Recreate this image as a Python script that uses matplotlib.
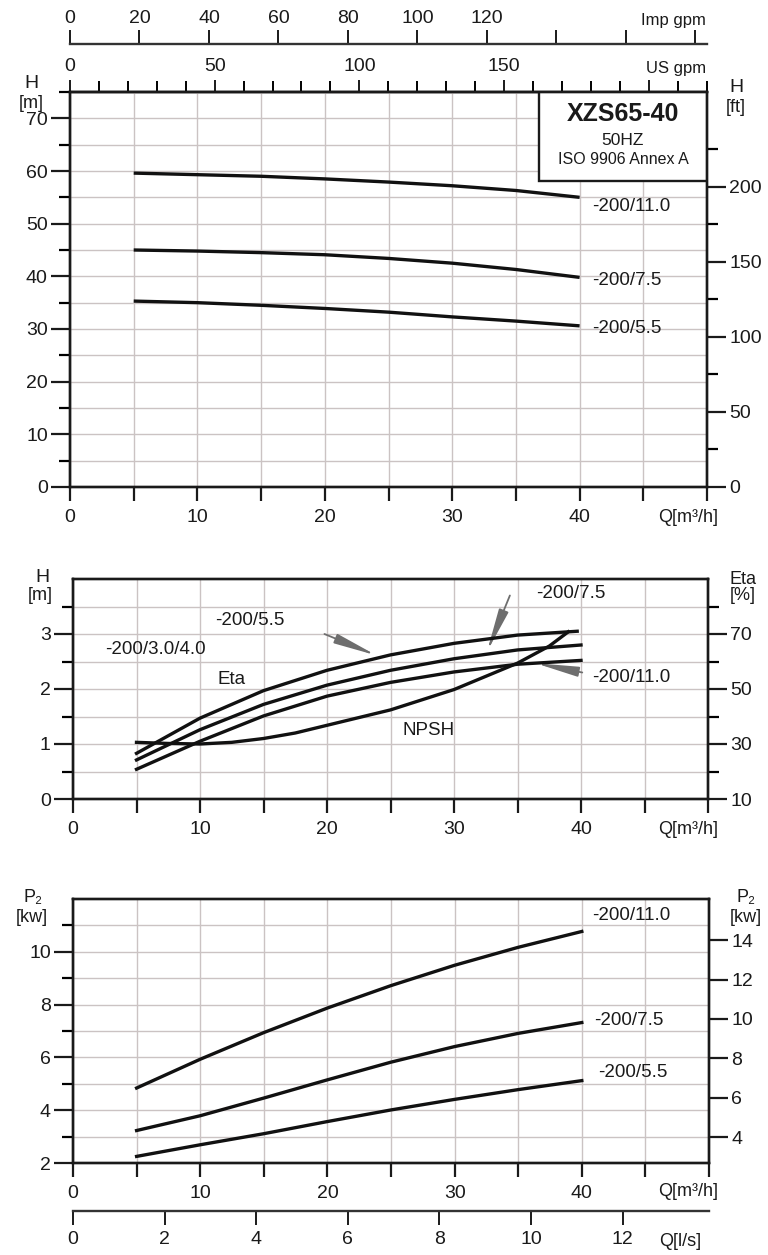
import numpy as np
import matplotlib
matplotlib.use('Agg')
import matplotlib.pyplot as plt
from matplotlib.ticker import FixedLocator, FuncFormatter
from matplotlib.patches import Rectangle

plt.rcParams['font.family'] = ['Liberation Sans', 'DejaVu Sans']
plt.rcParams['axes.linewidth'] = 1.7

# flow points [m3/h]
q = [5, 10, 15, 20, 25, 30, 35, 40]

# head curves [m]
h_110 = [59.6, 59.3, 59.0, 58.5, 57.9, 57.2, 56.3, 55.0]
h_75 = [45.0, 44.8, 44.5, 44.1, 43.4, 42.5, 41.3, 39.8]
h_55 = [35.3, 35.0, 34.5, 33.9, 33.2, 32.3, 31.5, 30.6]
curve_names = ['-200/11.0', '-200/7.5', '-200/5.5']

# efficiency [%]
q_eta_top = [5, 10, 15, 20, 25, 30, 35, 39.7]
eta_55 = [26.6, 39.4, 49.4, 56.8, 62.4, 66.6, 69.6, 71.0]
eta_75 = [24.2, 35.2, 44.4, 51.4, 56.8, 61.0, 64.2, 66.0]
eta_110 = [20.8, 31.0, 40.2, 47.4, 52.4, 56.2, 59.0, 60.4]

# NPSH [m]
q_npsh = [5, 7.5, 10, 12.5, 15, 17.5, 20, 25, 30, 35, 37.5, 39]
npsh = [1.03, 1.01, 1.00, 1.03, 1.10, 1.20, 1.34, 1.62, 1.99, 2.47, 2.78, 3.04]

# shaft power [kW]
p_110 = [4.84, 5.93, 6.94, 7.87, 8.72, 9.49, 10.17, 10.77]
p_75 = [3.23, 3.79, 4.46, 5.15, 5.82, 6.41, 6.91, 7.32]
p_55 = [2.25, 2.69, 3.11, 3.57, 4.01, 4.41, 4.78, 5.12]

# unit conversions
M_TO_FT = 3.511
US_GPM = 4.4029
IMP_GPM = 3.6662
KW_TO_HP = 1.341

W, H = 768, 1255
grid_col = '#cbc3c3'
ink = '#1a1a1a'
lw_curve = 2.4
fs_tick = 14
fs_lab = 13.5

fig = plt.figure(figsize=(W / 100, H / 100), dpi=100)


def box(l, t, r, b):
    return [l / W, 1 - b / H, (r - l) / W, (b - t) / H]


def px(x, y):
    return x / W, 1 - y / H


def setup_x(ax):
    ax.set_xlim(0, 50)
    ax.xaxis.set_major_locator(FixedLocator(np.arange(0, 51, 5)))
    ax.xaxis.set_major_formatter(FuncFormatter(lambda v, p: '%d' % v if v % 10 == 0 and v < 45 else ''))
    ax.tick_params(axis='x', direction='out', length=10, width=1.6, labelsize=fs_tick,
                   pad=6, colors=ink)
    ax.grid(True, axis='x', which='major', color=grid_col, lw=1.0)
    ax.set_axisbelow(True)
    for s in ax.spines.values():
        s.set_color(ink)


def setup_y(ax, major, minor, lim, grid=True):
    ax.set_ylim(*lim)
    ax.yaxis.set_major_locator(FixedLocator(major))
    ax.yaxis.set_minor_locator(FixedLocator(minor))
    ax.yaxis.set_major_formatter(FuncFormatter(lambda v, p: '%g' % v))
    ax.tick_params(axis='y', which='major', direction='out', length=14, width=1.6,
                   labelsize=fs_tick, pad=2, colors=ink)
    ax.tick_params(axis='y', which='minor', direction='out', length=8, width=1.6)
    if grid:
        ax.grid(True, axis='y', which='both', color=grid_col, lw=1.0)


# ---------------- head chart ----------------
ax1 = fig.add_axes(box(70, 92, 707, 487))
setup_x(ax1)
setup_y(ax1, np.arange(0, 71, 10), np.arange(5, 76, 10), (0, 75))
ax1r = ax1.twinx()
setup_y(ax1r, np.arange(0, 201, 50), np.arange(25, 251, 50), (0, 75 * M_TO_FT), grid=False)
for s in ax1r.spines.values():
    s.set_color(ink)

for hv in [h_110, h_75, h_55]:
    ax1.plot(q, hv, color='#111111', lw=lw_curve, solid_capstyle='butt', zorder=4)
ax1.text(41.0, 53.2, curve_names[0], fontsize=fs_lab, va='center', color=ink)
ax1.text(41.0, 39.3, curve_names[1], fontsize=fs_lab, va='center', color=ink)
ax1.text(41.0, 30.0, curve_names[2], fontsize=fs_lab, va='center', color=ink)

# title box
ax1.add_patch(Rectangle((0.736, 0.775), 0.264, 0.225, transform=ax1.transAxes,
                        facecolor='white', edgecolor=ink, lw=1.7, zorder=5))
ax1.text(0.868, 0.944, 'XZS65-40', transform=ax1.transAxes, ha='center', va='center',
         fontsize=18, fontweight='bold', color=ink, zorder=6)
ax1.text(0.868, 0.876, '50HZ', transform=ax1.transAxes, ha='center', va='center',
         fontsize=12.5, color=ink, zorder=6)
ax1.text(0.868, 0.828, 'ISO 9906 Annex A', transform=ax1.transAxes, ha='center', va='center',
         fontsize=11.5, color=ink, zorder=6)

# flow scales on top
us = ax1.secondary_xaxis('top', functions=(lambda x: x * US_GPM, lambda x: x / US_GPM))
us.xaxis.set_major_locator(FixedLocator([0, 50, 100, 150, 200]))
us.xaxis.set_minor_locator(FixedLocator(np.arange(10, 221, 10)))
us.xaxis.set_major_formatter(FuncFormatter(lambda v, p: '%d' % v if v < 200 else ''))
us.tick_params(which='major', length=9, width=1.4, labelsize=fs_tick, pad=3, colors=ink)
us.tick_params(which='minor', length=8, width=1.4)

imp = ax1.secondary_xaxis(1 + 48 / 395, functions=(lambda x: x * IMP_GPM, lambda x: x / IMP_GPM))
imp.xaxis.set_major_locator(FixedLocator(np.arange(0, 181, 20)))
imp.xaxis.set_major_formatter(FuncFormatter(lambda v, p: '%d' % v if v <= 120 else ''))
imp.tick_params(which='major', length=10, width=1.4, labelsize=fs_tick, pad=2, colors=ink)
imp.spines['top'].set_linewidth(1.7)
imp.spines['top'].set_color('#333333')

fig.text(*px(706, 21), 'Imp gpm', ha='right', va='center', fontsize=12, color=ink)
fig.text(*px(706, 69), 'US gpm', ha='right', va='center', fontsize=12, color=ink)
fig.text(*px(31, 83), 'H', ha='center', va='center', fontsize=14, color=ink)
fig.text(*px(31, 103), '[m]', ha='center', va='center', fontsize=13, color=ink)
fig.text(*px(736, 88), 'H', ha='center', va='center', fontsize=14, color=ink)
fig.text(*px(736, 107), '[ft]', ha='center', va='center', fontsize=13, color=ink)
fig.text(*px(718, 518), 'Q[m³/h]', ha='right', va='center', fontsize=13, color=ink)

# ---------------- efficiency / NPSH chart ----------------
ax2 = fig.add_axes(box(73, 579, 708, 799))
setup_x(ax2)
setup_y(ax2, [0, 1, 2, 3], [0.5, 1.5, 2.5, 3.5], (0, 4))
ax2r = ax2.twinx()
setup_y(ax2r, [10, 30, 50, 70], [20, 40, 60, 80], (10, 90), grid=False)
for s in ax2r.spines.values():
    s.set_color(ink)

ax2r.plot(q_eta_top, eta_55, color='#111111', lw=lw_curve, zorder=4)
ax2r.plot(q, eta_75, color='#111111', lw=lw_curve, zorder=4)
ax2r.plot(q, eta_110, color='#111111', lw=lw_curve, zorder=4)
ax2.plot(q_npsh, npsh, color='#111111', lw=lw_curve, zorder=4)

arrow = dict(arrowstyle='-|>,head_length=2.6,head_width=0.3', mutation_scale=10,
             color='#6e6e6e', lw=1.3, shrinkA=0, shrinkB=0)
ax2.annotate('', xy=(23.9, 2.61), xytext=(19.8, 3.0), arrowprops=arrow, zorder=6)
ax2.annotate('', xy=(32.6, 2.68), xytext=(34.4, 3.70), arrowprops=arrow, zorder=6)
ax2.annotate('', xy=(36.4, 2.47), xytext=(40.1, 2.30), arrowprops=arrow, zorder=6)

ax2.text(13.9, 3.24, '-200/5.5', fontsize=fs_lab, ha='center', va='center', color=ink)
ax2.text(6.5, 2.72, '-200/3.0/4.0', fontsize=fs_lab, ha='center', va='center', color=ink)
ax2.text(12.5, 2.18, 'Eta', fontsize=fs_lab, ha='center', va='center', color=ink)
ax2.text(28.0, 1.24, 'NPSH', fontsize=fs_lab, ha='center', va='center', color=ink)
ax2.text(36.5, 3.73, '-200/7.5', fontsize=fs_lab, va='center', color=ink, clip_on=False)
ax2.text(40.9, 2.21, '-200/11.0', fontsize=fs_lab, va='center', color=ink)

fig.text(*px(42, 578), 'H', ha='center', va='center', fontsize=14, color=ink)
fig.text(*px(40, 595), '[m]', ha='center', va='center', fontsize=13, color=ink)
fig.text(*px(743, 579), 'Eta', ha='center', va='center', fontsize=13, color=ink)
fig.text(*px(743, 595), '[%]', ha='center', va='center', fontsize=13, color=ink)
fig.text(*px(718, 829), 'Q[m³/h]', ha='right', va='center', fontsize=13, color=ink)

# ---------------- power chart ----------------
ax3 = fig.add_axes(box(73, 899, 709, 1163))
setup_x(ax3)
setup_y(ax3, [2, 4, 6, 8, 10], [3, 5, 7, 9, 11], (2, 12))
ax3r = ax3.twinx()
setup_y(ax3r, [4, 6, 8, 10, 12, 14], [], (2 * KW_TO_HP, 12 * KW_TO_HP), grid=False)
for s in ax3r.spines.values():
    s.set_color(ink)

for pv in [p_110, p_75, p_55]:
    ax3.plot(q, pv, color='#111111', lw=lw_curve, zorder=4)
ax3.text(40.8, 11.39, curve_names[0], fontsize=fs_lab, va='center', color=ink)
ax3.text(41.0, 7.38, curve_names[1], fontsize=fs_lab, va='center', color=ink)
ax3.text(41.3, 5.41, curve_names[2], fontsize=fs_lab, va='center', color=ink)

ls = ax3.secondary_xaxis(-47.5 / 264, functions=(lambda x: x / 3.6, lambda x: x * 3.6))
ls.xaxis.set_major_locator(FixedLocator(np.arange(0, 13, 2)))
ls.xaxis.set_major_formatter(FuncFormatter(lambda v, p: '%d' % v))
ls.tick_params(which='major', length=10, width=1.4, labelsize=fs_tick, pad=5, colors=ink)
ls.spines['bottom'].set_linewidth(1.7)
ls.spines['bottom'].set_color('#333333')

fig.text(*px(33, 898), 'P₂', ha='center', va='center', fontsize=13, color=ink)
fig.text(*px(32, 917), '[kw]', ha='center', va='center', fontsize=13, color=ink)
fig.text(*px(746, 898), 'P₂', ha='center', va='center', fontsize=13, color=ink)
fig.text(*px(746, 917), '[kw]', ha='center', va='center', fontsize=13, color=ink)
fig.text(*px(718, 1191), 'Q[m³/h]', ha='right', va='center', fontsize=13, color=ink)
fig.text(*px(701, 1242), 'Q[l/s]', ha='right', va='center', fontsize=13, color=ink)

fig.savefig('out.png', dpi=100, facecolor='white')
